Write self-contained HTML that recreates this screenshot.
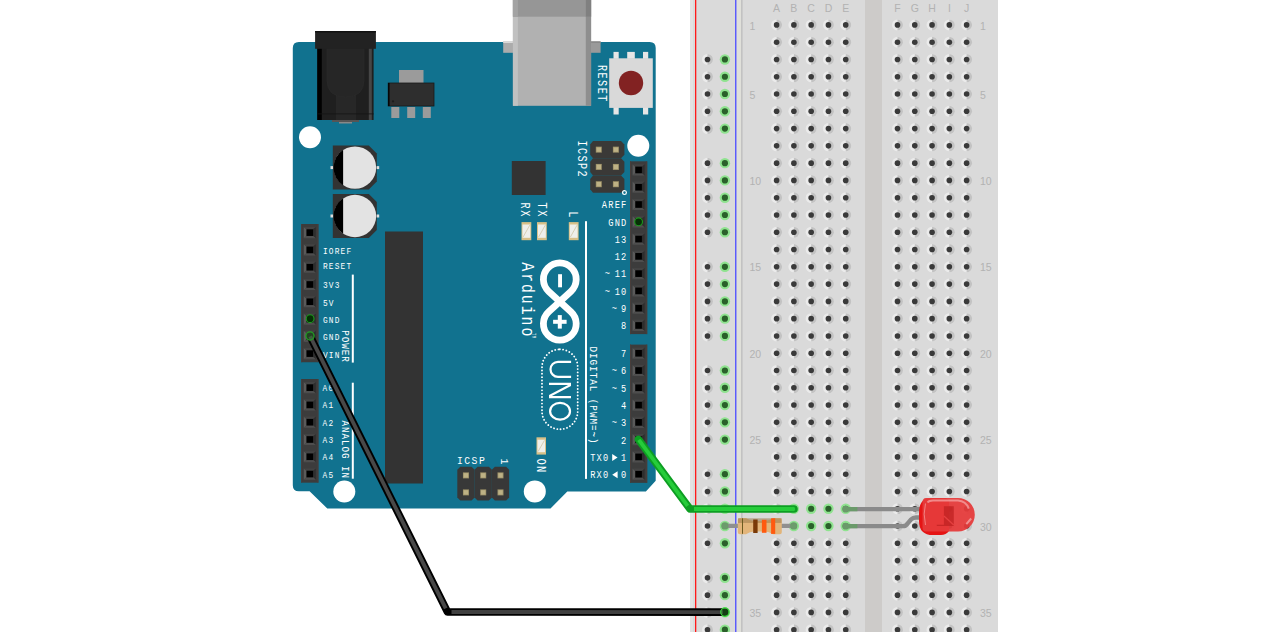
<!DOCTYPE html>
<html><head><meta charset="utf-8"><style>
html,body{margin:0;padding:0;background:#fff;width:1270px;height:632px;overflow:hidden}
svg{display:block}
.bl{font-family:"Liberation Sans",sans-serif;font-size:10.5px;fill:#b2b2b2;text-anchor:middle}
.lbx{font-family:"Liberation Mono",monospace;fill:#fff;stroke:none}
.ard{font-family:"Liberation Mono",monospace;fill:#fff;stroke:none}
</style></head><body>
<svg width="1270" height="632" viewBox="0 0 1270 632">
<defs>
<g id="h"><circle r="5.5" fill="#ebebeb"/><path d="M0,-5.5 A5.5,5.5 0 0 1 0,5.5 Z" fill="#c3c3c3"/><circle r="2.8" fill="#3a3a3a"/></g>
<g id="pin"><path d="M-6,-5.6 L-3.3,-3.3 L-3.3,3.3 L-6,5.6 Z" fill="#5a5a5a"/><path d="M-6,-5.6 L6,-5.6 L3.3,-3.3 L-3.3,-3.3 Z" fill="#434343"/><path d="M6,-5.6 L3.3,-3.3 L3.3,3.3 L6,5.6 Z" fill="#2e2e2e"/><path d="M-6,5.6 L6,5.6 L3.3,3.3 L-3.3,3.3 Z" fill="#4e4e4e"/><rect x="-3.3" y="-3.3" width="6.6" height="6.6" fill="#000"/></g>
</defs>
<rect width="1270" height="632" fill="#fff"/>
<rect x="690" y="0" width="308" height="632" fill="#dadada"/>
<rect x="690" y="0" width="3" height="632" fill="#e2e2e2"/>
<rect x="737" y="0" width="4" height="632" fill="#e0e0da"/>
<rect x="741" y="0" width="1.6" height="632" fill="#c2c2c2"/>
<rect x="865" y="0" width="17" height="632" fill="#cdcbc9"/>
<rect x="695" y="0" width="1.3" height="632" fill="#ff1a1a"/>
<rect x="735.1" y="0" width="1.3" height="632" fill="#4d4dff"/>
<use href="#h" x="776.60" y="24.90"/>
<use href="#h" x="793.88" y="24.90"/>
<use href="#h" x="811.16" y="24.90"/>
<use href="#h" x="828.44" y="24.90"/>
<use href="#h" x="845.72" y="24.90"/>
<use href="#h" x="897.50" y="24.90"/>
<use href="#h" x="914.78" y="24.90"/>
<use href="#h" x="932.06" y="24.90"/>
<use href="#h" x="949.34" y="24.90"/>
<use href="#h" x="966.62" y="24.90"/>
<use href="#h" x="776.60" y="42.18"/>
<use href="#h" x="793.88" y="42.18"/>
<use href="#h" x="811.16" y="42.18"/>
<use href="#h" x="828.44" y="42.18"/>
<use href="#h" x="845.72" y="42.18"/>
<use href="#h" x="897.50" y="42.18"/>
<use href="#h" x="914.78" y="42.18"/>
<use href="#h" x="932.06" y="42.18"/>
<use href="#h" x="949.34" y="42.18"/>
<use href="#h" x="966.62" y="42.18"/>
<use href="#h" x="776.60" y="59.46"/>
<use href="#h" x="793.88" y="59.46"/>
<use href="#h" x="811.16" y="59.46"/>
<use href="#h" x="828.44" y="59.46"/>
<use href="#h" x="845.72" y="59.46"/>
<use href="#h" x="897.50" y="59.46"/>
<use href="#h" x="914.78" y="59.46"/>
<use href="#h" x="932.06" y="59.46"/>
<use href="#h" x="949.34" y="59.46"/>
<use href="#h" x="966.62" y="59.46"/>
<use href="#h" x="776.60" y="76.74"/>
<use href="#h" x="793.88" y="76.74"/>
<use href="#h" x="811.16" y="76.74"/>
<use href="#h" x="828.44" y="76.74"/>
<use href="#h" x="845.72" y="76.74"/>
<use href="#h" x="897.50" y="76.74"/>
<use href="#h" x="914.78" y="76.74"/>
<use href="#h" x="932.06" y="76.74"/>
<use href="#h" x="949.34" y="76.74"/>
<use href="#h" x="966.62" y="76.74"/>
<use href="#h" x="776.60" y="94.02"/>
<use href="#h" x="793.88" y="94.02"/>
<use href="#h" x="811.16" y="94.02"/>
<use href="#h" x="828.44" y="94.02"/>
<use href="#h" x="845.72" y="94.02"/>
<use href="#h" x="897.50" y="94.02"/>
<use href="#h" x="914.78" y="94.02"/>
<use href="#h" x="932.06" y="94.02"/>
<use href="#h" x="949.34" y="94.02"/>
<use href="#h" x="966.62" y="94.02"/>
<use href="#h" x="776.60" y="111.30"/>
<use href="#h" x="793.88" y="111.30"/>
<use href="#h" x="811.16" y="111.30"/>
<use href="#h" x="828.44" y="111.30"/>
<use href="#h" x="845.72" y="111.30"/>
<use href="#h" x="897.50" y="111.30"/>
<use href="#h" x="914.78" y="111.30"/>
<use href="#h" x="932.06" y="111.30"/>
<use href="#h" x="949.34" y="111.30"/>
<use href="#h" x="966.62" y="111.30"/>
<use href="#h" x="776.60" y="128.58"/>
<use href="#h" x="793.88" y="128.58"/>
<use href="#h" x="811.16" y="128.58"/>
<use href="#h" x="828.44" y="128.58"/>
<use href="#h" x="845.72" y="128.58"/>
<use href="#h" x="897.50" y="128.58"/>
<use href="#h" x="914.78" y="128.58"/>
<use href="#h" x="932.06" y="128.58"/>
<use href="#h" x="949.34" y="128.58"/>
<use href="#h" x="966.62" y="128.58"/>
<use href="#h" x="776.60" y="145.86"/>
<use href="#h" x="793.88" y="145.86"/>
<use href="#h" x="811.16" y="145.86"/>
<use href="#h" x="828.44" y="145.86"/>
<use href="#h" x="845.72" y="145.86"/>
<use href="#h" x="897.50" y="145.86"/>
<use href="#h" x="914.78" y="145.86"/>
<use href="#h" x="932.06" y="145.86"/>
<use href="#h" x="949.34" y="145.86"/>
<use href="#h" x="966.62" y="145.86"/>
<use href="#h" x="776.60" y="163.14"/>
<use href="#h" x="793.88" y="163.14"/>
<use href="#h" x="811.16" y="163.14"/>
<use href="#h" x="828.44" y="163.14"/>
<use href="#h" x="845.72" y="163.14"/>
<use href="#h" x="897.50" y="163.14"/>
<use href="#h" x="914.78" y="163.14"/>
<use href="#h" x="932.06" y="163.14"/>
<use href="#h" x="949.34" y="163.14"/>
<use href="#h" x="966.62" y="163.14"/>
<use href="#h" x="776.60" y="180.42"/>
<use href="#h" x="793.88" y="180.42"/>
<use href="#h" x="811.16" y="180.42"/>
<use href="#h" x="828.44" y="180.42"/>
<use href="#h" x="845.72" y="180.42"/>
<use href="#h" x="897.50" y="180.42"/>
<use href="#h" x="914.78" y="180.42"/>
<use href="#h" x="932.06" y="180.42"/>
<use href="#h" x="949.34" y="180.42"/>
<use href="#h" x="966.62" y="180.42"/>
<use href="#h" x="776.60" y="197.70"/>
<use href="#h" x="793.88" y="197.70"/>
<use href="#h" x="811.16" y="197.70"/>
<use href="#h" x="828.44" y="197.70"/>
<use href="#h" x="845.72" y="197.70"/>
<use href="#h" x="897.50" y="197.70"/>
<use href="#h" x="914.78" y="197.70"/>
<use href="#h" x="932.06" y="197.70"/>
<use href="#h" x="949.34" y="197.70"/>
<use href="#h" x="966.62" y="197.70"/>
<use href="#h" x="776.60" y="214.98"/>
<use href="#h" x="793.88" y="214.98"/>
<use href="#h" x="811.16" y="214.98"/>
<use href="#h" x="828.44" y="214.98"/>
<use href="#h" x="845.72" y="214.98"/>
<use href="#h" x="897.50" y="214.98"/>
<use href="#h" x="914.78" y="214.98"/>
<use href="#h" x="932.06" y="214.98"/>
<use href="#h" x="949.34" y="214.98"/>
<use href="#h" x="966.62" y="214.98"/>
<use href="#h" x="776.60" y="232.26"/>
<use href="#h" x="793.88" y="232.26"/>
<use href="#h" x="811.16" y="232.26"/>
<use href="#h" x="828.44" y="232.26"/>
<use href="#h" x="845.72" y="232.26"/>
<use href="#h" x="897.50" y="232.26"/>
<use href="#h" x="914.78" y="232.26"/>
<use href="#h" x="932.06" y="232.26"/>
<use href="#h" x="949.34" y="232.26"/>
<use href="#h" x="966.62" y="232.26"/>
<use href="#h" x="776.60" y="249.54"/>
<use href="#h" x="793.88" y="249.54"/>
<use href="#h" x="811.16" y="249.54"/>
<use href="#h" x="828.44" y="249.54"/>
<use href="#h" x="845.72" y="249.54"/>
<use href="#h" x="897.50" y="249.54"/>
<use href="#h" x="914.78" y="249.54"/>
<use href="#h" x="932.06" y="249.54"/>
<use href="#h" x="949.34" y="249.54"/>
<use href="#h" x="966.62" y="249.54"/>
<use href="#h" x="776.60" y="266.82"/>
<use href="#h" x="793.88" y="266.82"/>
<use href="#h" x="811.16" y="266.82"/>
<use href="#h" x="828.44" y="266.82"/>
<use href="#h" x="845.72" y="266.82"/>
<use href="#h" x="897.50" y="266.82"/>
<use href="#h" x="914.78" y="266.82"/>
<use href="#h" x="932.06" y="266.82"/>
<use href="#h" x="949.34" y="266.82"/>
<use href="#h" x="966.62" y="266.82"/>
<use href="#h" x="776.60" y="284.10"/>
<use href="#h" x="793.88" y="284.10"/>
<use href="#h" x="811.16" y="284.10"/>
<use href="#h" x="828.44" y="284.10"/>
<use href="#h" x="845.72" y="284.10"/>
<use href="#h" x="897.50" y="284.10"/>
<use href="#h" x="914.78" y="284.10"/>
<use href="#h" x="932.06" y="284.10"/>
<use href="#h" x="949.34" y="284.10"/>
<use href="#h" x="966.62" y="284.10"/>
<use href="#h" x="776.60" y="301.38"/>
<use href="#h" x="793.88" y="301.38"/>
<use href="#h" x="811.16" y="301.38"/>
<use href="#h" x="828.44" y="301.38"/>
<use href="#h" x="845.72" y="301.38"/>
<use href="#h" x="897.50" y="301.38"/>
<use href="#h" x="914.78" y="301.38"/>
<use href="#h" x="932.06" y="301.38"/>
<use href="#h" x="949.34" y="301.38"/>
<use href="#h" x="966.62" y="301.38"/>
<use href="#h" x="776.60" y="318.66"/>
<use href="#h" x="793.88" y="318.66"/>
<use href="#h" x="811.16" y="318.66"/>
<use href="#h" x="828.44" y="318.66"/>
<use href="#h" x="845.72" y="318.66"/>
<use href="#h" x="897.50" y="318.66"/>
<use href="#h" x="914.78" y="318.66"/>
<use href="#h" x="932.06" y="318.66"/>
<use href="#h" x="949.34" y="318.66"/>
<use href="#h" x="966.62" y="318.66"/>
<use href="#h" x="776.60" y="335.94"/>
<use href="#h" x="793.88" y="335.94"/>
<use href="#h" x="811.16" y="335.94"/>
<use href="#h" x="828.44" y="335.94"/>
<use href="#h" x="845.72" y="335.94"/>
<use href="#h" x="897.50" y="335.94"/>
<use href="#h" x="914.78" y="335.94"/>
<use href="#h" x="932.06" y="335.94"/>
<use href="#h" x="949.34" y="335.94"/>
<use href="#h" x="966.62" y="335.94"/>
<use href="#h" x="776.60" y="353.22"/>
<use href="#h" x="793.88" y="353.22"/>
<use href="#h" x="811.16" y="353.22"/>
<use href="#h" x="828.44" y="353.22"/>
<use href="#h" x="845.72" y="353.22"/>
<use href="#h" x="897.50" y="353.22"/>
<use href="#h" x="914.78" y="353.22"/>
<use href="#h" x="932.06" y="353.22"/>
<use href="#h" x="949.34" y="353.22"/>
<use href="#h" x="966.62" y="353.22"/>
<use href="#h" x="776.60" y="370.50"/>
<use href="#h" x="793.88" y="370.50"/>
<use href="#h" x="811.16" y="370.50"/>
<use href="#h" x="828.44" y="370.50"/>
<use href="#h" x="845.72" y="370.50"/>
<use href="#h" x="897.50" y="370.50"/>
<use href="#h" x="914.78" y="370.50"/>
<use href="#h" x="932.06" y="370.50"/>
<use href="#h" x="949.34" y="370.50"/>
<use href="#h" x="966.62" y="370.50"/>
<use href="#h" x="776.60" y="387.78"/>
<use href="#h" x="793.88" y="387.78"/>
<use href="#h" x="811.16" y="387.78"/>
<use href="#h" x="828.44" y="387.78"/>
<use href="#h" x="845.72" y="387.78"/>
<use href="#h" x="897.50" y="387.78"/>
<use href="#h" x="914.78" y="387.78"/>
<use href="#h" x="932.06" y="387.78"/>
<use href="#h" x="949.34" y="387.78"/>
<use href="#h" x="966.62" y="387.78"/>
<use href="#h" x="776.60" y="405.06"/>
<use href="#h" x="793.88" y="405.06"/>
<use href="#h" x="811.16" y="405.06"/>
<use href="#h" x="828.44" y="405.06"/>
<use href="#h" x="845.72" y="405.06"/>
<use href="#h" x="897.50" y="405.06"/>
<use href="#h" x="914.78" y="405.06"/>
<use href="#h" x="932.06" y="405.06"/>
<use href="#h" x="949.34" y="405.06"/>
<use href="#h" x="966.62" y="405.06"/>
<use href="#h" x="776.60" y="422.34"/>
<use href="#h" x="793.88" y="422.34"/>
<use href="#h" x="811.16" y="422.34"/>
<use href="#h" x="828.44" y="422.34"/>
<use href="#h" x="845.72" y="422.34"/>
<use href="#h" x="897.50" y="422.34"/>
<use href="#h" x="914.78" y="422.34"/>
<use href="#h" x="932.06" y="422.34"/>
<use href="#h" x="949.34" y="422.34"/>
<use href="#h" x="966.62" y="422.34"/>
<use href="#h" x="776.60" y="439.62"/>
<use href="#h" x="793.88" y="439.62"/>
<use href="#h" x="811.16" y="439.62"/>
<use href="#h" x="828.44" y="439.62"/>
<use href="#h" x="845.72" y="439.62"/>
<use href="#h" x="897.50" y="439.62"/>
<use href="#h" x="914.78" y="439.62"/>
<use href="#h" x="932.06" y="439.62"/>
<use href="#h" x="949.34" y="439.62"/>
<use href="#h" x="966.62" y="439.62"/>
<use href="#h" x="776.60" y="456.90"/>
<use href="#h" x="793.88" y="456.90"/>
<use href="#h" x="811.16" y="456.90"/>
<use href="#h" x="828.44" y="456.90"/>
<use href="#h" x="845.72" y="456.90"/>
<use href="#h" x="897.50" y="456.90"/>
<use href="#h" x="914.78" y="456.90"/>
<use href="#h" x="932.06" y="456.90"/>
<use href="#h" x="949.34" y="456.90"/>
<use href="#h" x="966.62" y="456.90"/>
<use href="#h" x="776.60" y="474.18"/>
<use href="#h" x="793.88" y="474.18"/>
<use href="#h" x="811.16" y="474.18"/>
<use href="#h" x="828.44" y="474.18"/>
<use href="#h" x="845.72" y="474.18"/>
<use href="#h" x="897.50" y="474.18"/>
<use href="#h" x="914.78" y="474.18"/>
<use href="#h" x="932.06" y="474.18"/>
<use href="#h" x="949.34" y="474.18"/>
<use href="#h" x="966.62" y="474.18"/>
<use href="#h" x="776.60" y="491.46"/>
<use href="#h" x="793.88" y="491.46"/>
<use href="#h" x="811.16" y="491.46"/>
<use href="#h" x="828.44" y="491.46"/>
<use href="#h" x="845.72" y="491.46"/>
<use href="#h" x="897.50" y="491.46"/>
<use href="#h" x="914.78" y="491.46"/>
<use href="#h" x="932.06" y="491.46"/>
<use href="#h" x="949.34" y="491.46"/>
<use href="#h" x="966.62" y="491.46"/>
<use href="#h" x="776.60" y="508.74"/>
<circle cx="793.88" cy="508.74" r="5.2" fill="#8fe38f"/>
<circle cx="793.88" cy="508.74" r="3.1" fill="#2a602a"/>
<circle cx="811.16" cy="508.74" r="5.2" fill="#8fe38f"/>
<circle cx="811.16" cy="508.74" r="3.1" fill="#2a602a"/>
<circle cx="828.44" cy="508.74" r="5.2" fill="#8fe38f"/>
<circle cx="828.44" cy="508.74" r="3.1" fill="#2a602a"/>
<circle cx="845.72" cy="508.74" r="5.2" fill="#8fe38f"/>
<circle cx="845.72" cy="508.74" r="3.1" fill="#2a602a"/>
<use href="#h" x="897.50" y="508.74"/>
<use href="#h" x="914.78" y="508.74"/>
<use href="#h" x="932.06" y="508.74"/>
<use href="#h" x="949.34" y="508.74"/>
<use href="#h" x="966.62" y="508.74"/>
<use href="#h" x="776.60" y="526.02"/>
<circle cx="793.88" cy="526.02" r="5.2" fill="#8fe38f"/>
<circle cx="793.88" cy="526.02" r="3.1" fill="#2a602a"/>
<circle cx="811.16" cy="526.02" r="5.2" fill="#8fe38f"/>
<circle cx="811.16" cy="526.02" r="3.1" fill="#2a602a"/>
<circle cx="828.44" cy="526.02" r="5.2" fill="#8fe38f"/>
<circle cx="828.44" cy="526.02" r="3.1" fill="#2a602a"/>
<circle cx="845.72" cy="526.02" r="5.2" fill="#8fe38f"/>
<circle cx="845.72" cy="526.02" r="3.1" fill="#2a602a"/>
<use href="#h" x="897.50" y="526.02"/>
<use href="#h" x="914.78" y="526.02"/>
<use href="#h" x="932.06" y="526.02"/>
<use href="#h" x="949.34" y="526.02"/>
<use href="#h" x="966.62" y="526.02"/>
<use href="#h" x="776.60" y="543.30"/>
<use href="#h" x="793.88" y="543.30"/>
<use href="#h" x="811.16" y="543.30"/>
<use href="#h" x="828.44" y="543.30"/>
<use href="#h" x="845.72" y="543.30"/>
<use href="#h" x="897.50" y="543.30"/>
<use href="#h" x="914.78" y="543.30"/>
<use href="#h" x="932.06" y="543.30"/>
<use href="#h" x="949.34" y="543.30"/>
<use href="#h" x="966.62" y="543.30"/>
<use href="#h" x="776.60" y="560.58"/>
<use href="#h" x="793.88" y="560.58"/>
<use href="#h" x="811.16" y="560.58"/>
<use href="#h" x="828.44" y="560.58"/>
<use href="#h" x="845.72" y="560.58"/>
<use href="#h" x="897.50" y="560.58"/>
<use href="#h" x="914.78" y="560.58"/>
<use href="#h" x="932.06" y="560.58"/>
<use href="#h" x="949.34" y="560.58"/>
<use href="#h" x="966.62" y="560.58"/>
<use href="#h" x="776.60" y="577.86"/>
<use href="#h" x="793.88" y="577.86"/>
<use href="#h" x="811.16" y="577.86"/>
<use href="#h" x="828.44" y="577.86"/>
<use href="#h" x="845.72" y="577.86"/>
<use href="#h" x="897.50" y="577.86"/>
<use href="#h" x="914.78" y="577.86"/>
<use href="#h" x="932.06" y="577.86"/>
<use href="#h" x="949.34" y="577.86"/>
<use href="#h" x="966.62" y="577.86"/>
<use href="#h" x="776.60" y="595.14"/>
<use href="#h" x="793.88" y="595.14"/>
<use href="#h" x="811.16" y="595.14"/>
<use href="#h" x="828.44" y="595.14"/>
<use href="#h" x="845.72" y="595.14"/>
<use href="#h" x="897.50" y="595.14"/>
<use href="#h" x="914.78" y="595.14"/>
<use href="#h" x="932.06" y="595.14"/>
<use href="#h" x="949.34" y="595.14"/>
<use href="#h" x="966.62" y="595.14"/>
<use href="#h" x="776.60" y="612.42"/>
<use href="#h" x="793.88" y="612.42"/>
<use href="#h" x="811.16" y="612.42"/>
<use href="#h" x="828.44" y="612.42"/>
<use href="#h" x="845.72" y="612.42"/>
<use href="#h" x="897.50" y="612.42"/>
<use href="#h" x="914.78" y="612.42"/>
<use href="#h" x="932.06" y="612.42"/>
<use href="#h" x="949.34" y="612.42"/>
<use href="#h" x="966.62" y="612.42"/>
<use href="#h" x="776.60" y="629.70"/>
<use href="#h" x="793.88" y="629.70"/>
<use href="#h" x="811.16" y="629.70"/>
<use href="#h" x="828.44" y="629.70"/>
<use href="#h" x="845.72" y="629.70"/>
<use href="#h" x="897.50" y="629.70"/>
<use href="#h" x="914.78" y="629.70"/>
<use href="#h" x="932.06" y="629.70"/>
<use href="#h" x="949.34" y="629.70"/>
<use href="#h" x="966.62" y="629.70"/>
<use href="#h" x="776.60" y="646.98"/>
<use href="#h" x="793.88" y="646.98"/>
<use href="#h" x="811.16" y="646.98"/>
<use href="#h" x="828.44" y="646.98"/>
<use href="#h" x="845.72" y="646.98"/>
<use href="#h" x="897.50" y="646.98"/>
<use href="#h" x="914.78" y="646.98"/>
<use href="#h" x="932.06" y="646.98"/>
<use href="#h" x="949.34" y="646.98"/>
<use href="#h" x="966.62" y="646.98"/>
<use href="#h" x="707.50" y="59.46"/>
<circle cx="724.90" cy="59.46" r="5.2" fill="#8fe38f"/>
<circle cx="724.90" cy="59.46" r="3.1" fill="#2a602a"/>
<use href="#h" x="707.50" y="76.74"/>
<circle cx="724.90" cy="76.74" r="5.2" fill="#8fe38f"/>
<circle cx="724.90" cy="76.74" r="3.1" fill="#2a602a"/>
<use href="#h" x="707.50" y="94.02"/>
<circle cx="724.90" cy="94.02" r="5.2" fill="#8fe38f"/>
<circle cx="724.90" cy="94.02" r="3.1" fill="#2a602a"/>
<use href="#h" x="707.50" y="111.30"/>
<circle cx="724.90" cy="111.30" r="5.2" fill="#8fe38f"/>
<circle cx="724.90" cy="111.30" r="3.1" fill="#2a602a"/>
<use href="#h" x="707.50" y="128.58"/>
<circle cx="724.90" cy="128.58" r="5.2" fill="#8fe38f"/>
<circle cx="724.90" cy="128.58" r="3.1" fill="#2a602a"/>
<use href="#h" x="707.50" y="163.14"/>
<circle cx="724.90" cy="163.14" r="5.2" fill="#8fe38f"/>
<circle cx="724.90" cy="163.14" r="3.1" fill="#2a602a"/>
<use href="#h" x="707.50" y="180.42"/>
<circle cx="724.90" cy="180.42" r="5.2" fill="#8fe38f"/>
<circle cx="724.90" cy="180.42" r="3.1" fill="#2a602a"/>
<use href="#h" x="707.50" y="197.70"/>
<circle cx="724.90" cy="197.70" r="5.2" fill="#8fe38f"/>
<circle cx="724.90" cy="197.70" r="3.1" fill="#2a602a"/>
<use href="#h" x="707.50" y="214.98"/>
<circle cx="724.90" cy="214.98" r="5.2" fill="#8fe38f"/>
<circle cx="724.90" cy="214.98" r="3.1" fill="#2a602a"/>
<use href="#h" x="707.50" y="232.26"/>
<circle cx="724.90" cy="232.26" r="5.2" fill="#8fe38f"/>
<circle cx="724.90" cy="232.26" r="3.1" fill="#2a602a"/>
<use href="#h" x="707.50" y="266.82"/>
<circle cx="724.90" cy="266.82" r="5.2" fill="#8fe38f"/>
<circle cx="724.90" cy="266.82" r="3.1" fill="#2a602a"/>
<use href="#h" x="707.50" y="284.10"/>
<circle cx="724.90" cy="284.10" r="5.2" fill="#8fe38f"/>
<circle cx="724.90" cy="284.10" r="3.1" fill="#2a602a"/>
<use href="#h" x="707.50" y="301.38"/>
<circle cx="724.90" cy="301.38" r="5.2" fill="#8fe38f"/>
<circle cx="724.90" cy="301.38" r="3.1" fill="#2a602a"/>
<use href="#h" x="707.50" y="318.66"/>
<circle cx="724.90" cy="318.66" r="5.2" fill="#8fe38f"/>
<circle cx="724.90" cy="318.66" r="3.1" fill="#2a602a"/>
<use href="#h" x="707.50" y="335.94"/>
<circle cx="724.90" cy="335.94" r="5.2" fill="#8fe38f"/>
<circle cx="724.90" cy="335.94" r="3.1" fill="#2a602a"/>
<use href="#h" x="707.50" y="370.50"/>
<circle cx="724.90" cy="370.50" r="5.2" fill="#8fe38f"/>
<circle cx="724.90" cy="370.50" r="3.1" fill="#2a602a"/>
<use href="#h" x="707.50" y="387.78"/>
<circle cx="724.90" cy="387.78" r="5.2" fill="#8fe38f"/>
<circle cx="724.90" cy="387.78" r="3.1" fill="#2a602a"/>
<use href="#h" x="707.50" y="405.06"/>
<circle cx="724.90" cy="405.06" r="5.2" fill="#8fe38f"/>
<circle cx="724.90" cy="405.06" r="3.1" fill="#2a602a"/>
<use href="#h" x="707.50" y="422.34"/>
<circle cx="724.90" cy="422.34" r="5.2" fill="#8fe38f"/>
<circle cx="724.90" cy="422.34" r="3.1" fill="#2a602a"/>
<use href="#h" x="707.50" y="439.62"/>
<circle cx="724.90" cy="439.62" r="5.2" fill="#8fe38f"/>
<circle cx="724.90" cy="439.62" r="3.1" fill="#2a602a"/>
<use href="#h" x="707.50" y="474.18"/>
<circle cx="724.90" cy="474.18" r="5.2" fill="#8fe38f"/>
<circle cx="724.90" cy="474.18" r="3.1" fill="#2a602a"/>
<use href="#h" x="707.50" y="491.46"/>
<circle cx="724.90" cy="491.46" r="5.2" fill="#8fe38f"/>
<circle cx="724.90" cy="491.46" r="3.1" fill="#2a602a"/>
<use href="#h" x="707.50" y="508.74"/>
<circle cx="724.90" cy="508.74" r="5.2" fill="#8fe38f"/>
<circle cx="724.90" cy="508.74" r="3.1" fill="#2a602a"/>
<use href="#h" x="707.50" y="526.02"/>
<circle cx="724.90" cy="526.02" r="5.2" fill="#8fe38f"/>
<circle cx="724.90" cy="526.02" r="3.1" fill="#2a602a"/>
<use href="#h" x="707.50" y="543.30"/>
<circle cx="724.90" cy="543.30" r="5.2" fill="#8fe38f"/>
<circle cx="724.90" cy="543.30" r="3.1" fill="#2a602a"/>
<use href="#h" x="707.50" y="577.86"/>
<circle cx="724.90" cy="577.86" r="5.2" fill="#8fe38f"/>
<circle cx="724.90" cy="577.86" r="3.1" fill="#2a602a"/>
<use href="#h" x="707.50" y="595.14"/>
<circle cx="724.90" cy="595.14" r="5.2" fill="#8fe38f"/>
<circle cx="724.90" cy="595.14" r="3.1" fill="#2a602a"/>
<use href="#h" x="707.50" y="612.42"/>
<circle cx="724.90" cy="612.42" r="5.2" fill="#8fe38f"/>
<circle cx="724.90" cy="612.42" r="3.1" fill="#2a602a"/>
<use href="#h" x="707.50" y="629.70"/>
<circle cx="724.90" cy="629.70" r="5.2" fill="#8fe38f"/>
<circle cx="724.90" cy="629.70" r="3.1" fill="#2a602a"/>
<use href="#h" x="707.50" y="646.98"/>
<circle cx="724.90" cy="646.98" r="5.2" fill="#8fe38f"/>
<circle cx="724.90" cy="646.98" r="3.1" fill="#2a602a"/>
<text x="776.60" y="11.8" class="bl">A</text>
<text x="793.88" y="11.8" class="bl">B</text>
<text x="811.16" y="11.8" class="bl">C</text>
<text x="828.44" y="11.8" class="bl">D</text>
<text x="845.72" y="11.8" class="bl">E</text>
<text x="897.50" y="11.8" class="bl">F</text>
<text x="914.78" y="11.8" class="bl">G</text>
<text x="932.06" y="11.8" class="bl">H</text>
<text x="949.34" y="11.8" class="bl">I</text>
<text x="966.62" y="11.8" class="bl">J</text>
<text x="749.4" y="29.50" class="bl" style="text-anchor:start">1</text>
<text x="979.9" y="29.50" class="bl" style="text-anchor:start">1</text>
<text x="749.4" y="98.62" class="bl" style="text-anchor:start">5</text>
<text x="979.9" y="98.62" class="bl" style="text-anchor:start">5</text>
<text x="749.4" y="185.02" class="bl" style="text-anchor:start">10</text>
<text x="979.9" y="185.02" class="bl" style="text-anchor:start">10</text>
<text x="749.4" y="271.42" class="bl" style="text-anchor:start">15</text>
<text x="979.9" y="271.42" class="bl" style="text-anchor:start">15</text>
<text x="749.4" y="357.82" class="bl" style="text-anchor:start">20</text>
<text x="979.9" y="357.82" class="bl" style="text-anchor:start">20</text>
<text x="749.4" y="444.22" class="bl" style="text-anchor:start">25</text>
<text x="979.9" y="444.22" class="bl" style="text-anchor:start">25</text>
<text x="749.4" y="530.62" class="bl" style="text-anchor:start">30</text>
<text x="979.9" y="530.62" class="bl" style="text-anchor:start">30</text>
<text x="749.4" y="617.02" class="bl" style="text-anchor:start">35</text>
<text x="979.9" y="617.02" class="bl" style="text-anchor:start">35</text>
<path d="M292.8,48.1 Q292.8,42.1 298.8,42.1 L649.7,42.1 Q655.7,42.1 655.7,48.1 L655.7,480.8 L645.9,491.6 L567.3,491.6 L550.5,508.5 L327.3,508.5 L309.6,491.2 L298.8,491.2 Q292.8,491.2 292.8,485.2 Z" fill="#11728f"/>
<circle cx="310" cy="137.2" r="11" fill="#fff"/>
<circle cx="638.3" cy="145.8" r="11" fill="#fff"/>
<circle cx="344.3" cy="491.5" r="11" fill="#fff"/>
<circle cx="534.8" cy="491.4" r="11" fill="#fff"/>
<rect x="317.3" y="46" width="56.3" height="74" fill="#1f1f1f"/>
<rect x="317.3" y="46" width="4.5" height="74" fill="#000"/>
<rect x="368.8" y="48" width="3" height="72" fill="#464646"/>
<rect x="335.8" y="90" width="20.2" height="30" fill="#272727"/>
<path d="M327,48 L364,48 L364,80 Q364,97 345.5,97 Q327,97 327,80 Z" fill="#262626" stroke="#2c2c2c" stroke-width="0.6"/>
<rect x="317.3" y="113.5" width="56.3" height="0.8" fill="#141414"/>
<rect x="315.1" y="31" width="60.8" height="17.8" fill="#222"/>
<rect x="315.1" y="31" width="60.8" height="1.5" fill="#111"/>
<rect x="332" y="120" width="27" height="2" fill="#555"/>
<rect x="339" y="122" width="13" height="1.5" fill="#888"/>
<rect x="399" y="70" width="24.5" height="13" fill="#9b9b9b"/>
<rect x="388.2" y="83" width="45.8" height="23" fill="#2e2e2e" stroke="#1a1a1a" stroke-width="0.8"/>
<rect x="388.2" y="83" width="1.3" height="23" fill="#000"/><circle cx="393" cy="101.3" r="1.1" fill="#1c1c1c"/>
<rect x="391.3" y="107" width="8" height="11" fill="#9b9b9b"/>
<rect x="407.2" y="107" width="8" height="11" fill="#9b9b9b"/>
<rect x="422.8" y="107" width="8" height="11" fill="#9b9b9b"/>
<rect x="503.2" y="41.4" width="10" height="11.4" fill="#acacac"/><rect x="503.2" y="41.4" width="10" height="1.5" fill="#dedede"/>
<rect x="590" y="41.4" width="10.6" height="11.4" fill="#9a9a9a"/><rect x="590" y="41.4" width="10.6" height="1.5" fill="#888"/>
<rect x="512.9" y="0" width="78.2" height="105.8" fill="#b1b1b1"/>
<rect x="512.9" y="0" width="5" height="105.8" fill="#c1c1c1"/>
<rect x="585.8" y="0" width="5.3" height="105.8" fill="#8e8e8e"/>
<rect x="512.9" y="0" width="78.2" height="16.7" fill="#969696"/>
<rect x="585.8" y="0" width="5.3" height="16.7" fill="#808080"/>
<rect x="512.9" y="0" width="5" height="16.7" fill="#a3a3a3"/>
<rect x="613.5" y="51.9" width="5.2" height="7" fill="#e6e6e6"/>
<rect x="627.2" y="51.9" width="7.6" height="7" fill="#e6e6e6"/>
<rect x="643" y="51.9" width="5.2" height="7" fill="#e6e6e6"/>
<rect x="613.5" y="107" width="5.2" height="7.5" fill="#e6e6e6"/>
<rect x="643" y="107" width="5.2" height="7.5" fill="#e6e6e6"/>
<rect x="609.2" y="58.3" width="43.6" height="49.6" fill="#d9d9d9"/>
<circle cx="631" cy="83" r="12.2" fill="#822222"/>
<path d="M332.8,145.6 L368.8,145.6 L376.8,153.6 L376.8,181.6 L368.8,189.6 L332.8,189.6 Z" fill="#333"/>
<rect x="330.5" y="166.1" width="2.5" height="3" fill="#ddd"/><rect x="376.7" y="166.1" width="2.5" height="3" fill="#ddd"/>
<circle cx="355" cy="167.6" r="21.2" fill="#e3e3e3"/>
<path d="M343.1,149.80 A21.3,21.3 0 0 0 343.1,185.40 Z" fill="#000"/>
<path d="M332.8,194 L368.8,194 L376.8,202 L376.8,230 L368.8,238 L332.8,238 Z" fill="#333"/>
<rect x="330.5" y="214.5" width="2.5" height="3" fill="#ddd"/><rect x="376.7" y="214.5" width="2.5" height="3" fill="#ddd"/>
<circle cx="355" cy="216" r="21.2" fill="#e3e3e3"/>
<path d="M343.1,198.20 A21.3,21.3 0 0 0 343.1,233.80 Z" fill="#000"/>
<rect x="385" y="231.5" width="38" height="252" fill="#333"/>
<rect x="511.8" y="161" width="33.8" height="34" fill="#333"/>
<rect x="301.2" y="224.0" width="17.2" height="138.24" fill="#3c3c3c"/>
<rect x="301.2" y="224.0" width="0.9" height="138.24" fill="#4a3e3a"/><rect x="317.50" y="224.0" width="0.9" height="138.24" fill="#4a3e3a"/>
<use href="#pin" x="309.80" y="232.64"/>
<use href="#pin" x="309.80" y="249.92"/>
<use href="#pin" x="309.80" y="267.20"/>
<use href="#pin" x="309.80" y="284.48"/>
<use href="#pin" x="309.80" y="301.76"/>
<use href="#pin" x="309.80" y="319.04"/>
<use href="#pin" x="309.80" y="336.32"/>
<use href="#pin" x="309.80" y="353.60"/>
<rect x="301.2" y="379.0" width="17.2" height="103.68" fill="#3c3c3c"/>
<rect x="301.2" y="379.0" width="0.9" height="103.68" fill="#4a3e3a"/><rect x="317.50" y="379.0" width="0.9" height="103.68" fill="#4a3e3a"/>
<use href="#pin" x="309.80" y="387.64"/>
<use href="#pin" x="309.80" y="404.92"/>
<use href="#pin" x="309.80" y="422.20"/>
<use href="#pin" x="309.80" y="439.48"/>
<use href="#pin" x="309.80" y="456.76"/>
<use href="#pin" x="309.80" y="474.04"/>
<rect x="630.0" y="161.3" width="17.2" height="172.80" fill="#3c3c3c"/>
<rect x="630.0" y="161.3" width="0.9" height="172.80" fill="#4a3e3a"/><rect x="646.30" y="161.3" width="0.9" height="172.80" fill="#4a3e3a"/>
<use href="#pin" x="638.60" y="169.94"/>
<use href="#pin" x="638.60" y="187.22"/>
<use href="#pin" x="638.60" y="204.50"/>
<use href="#pin" x="638.60" y="221.78"/>
<use href="#pin" x="638.60" y="239.06"/>
<use href="#pin" x="638.60" y="256.34"/>
<use href="#pin" x="638.60" y="273.62"/>
<use href="#pin" x="638.60" y="290.90"/>
<use href="#pin" x="638.60" y="308.18"/>
<use href="#pin" x="638.60" y="325.46"/>
<rect x="630.0" y="344.6" width="17.2" height="138.24" fill="#3c3c3c"/>
<rect x="630.0" y="344.6" width="0.9" height="138.24" fill="#4a3e3a"/><rect x="646.30" y="344.6" width="0.9" height="138.24" fill="#4a3e3a"/>
<use href="#pin" x="638.60" y="353.24"/>
<use href="#pin" x="638.60" y="370.52"/>
<use href="#pin" x="638.60" y="387.80"/>
<use href="#pin" x="638.60" y="405.08"/>
<use href="#pin" x="638.60" y="422.36"/>
<use href="#pin" x="638.60" y="439.64"/>
<use href="#pin" x="638.60" y="456.92"/>
<use href="#pin" x="638.60" y="474.20"/>
<circle cx="310.1" cy="318.7" r="3.9" fill="#063006" stroke="#1e9a1e" stroke-width="1.1"/>
<circle cx="638.6" cy="221.8" r="3.9" fill="#063006" stroke="#1e9a1e" stroke-width="1.1"/>
<rect x="351.8" y="274.6" width="2" height="88" fill="#fff"/>
<rect x="351.8" y="382.7" width="2" height="96" fill="#fff"/>
<rect x="585" y="221.2" width="2" height="257.7" fill="#fff"/>
<rect x="521.5" y="222.1" width="9.8" height="18.1" fill="#d8c088"/>
<rect x="522.5" y="224.5" width="7.800000000000001" height="13.3" fill="#efefeb"/>
<path d="M523.0,237.2 L529.8,225.1" stroke="#c8b890" stroke-width="0.6"/>
<rect x="537" y="222.1" width="9.8" height="18.1" fill="#d8c088"/>
<rect x="538" y="224.5" width="7.800000000000001" height="13.3" fill="#efefeb"/>
<path d="M538.5,237.2 L545.3,225.1" stroke="#c8b890" stroke-width="0.6"/>
<rect x="568.8" y="222.1" width="9.8" height="18.1" fill="#d8c088"/>
<rect x="569.8" y="224.5" width="7.800000000000001" height="13.3" fill="#efefeb"/>
<path d="M570.3,237.2 L577.0999999999999,225.1" stroke="#c8b890" stroke-width="0.6"/>
<rect x="536.5" y="437.3" width="9.5" height="17.3" fill="#d8c088"/>
<rect x="537.5" y="439.7" width="7.5" height="12.5" fill="#efefeb"/>
<path d="M538.0,451.6 L544.5,440.3" stroke="#c8b890" stroke-width="0.6"/>
<path d="M593,141.00 L621,141.00 L624.4,144.50 L624.4,154.78 L621,158.28 L593,158.28 L590.2,154.78 L590.2,144.50 Z" fill="#3a3937"/>
<rect x="595.8" y="146.64" width="6" height="6" fill="#9c9068"/><rect x="596.5999999999999" y="147.44" width="4.4" height="4.4" fill="#bdb185"/>
<rect x="612.9" y="146.64" width="6" height="6" fill="#9c9068"/><rect x="613.6999999999999" y="147.44" width="4.4" height="4.4" fill="#bdb185"/>
<path d="M593,158.28 L621,158.28 L624.4,161.78 L624.4,172.06 L621,175.56 L593,175.56 L590.2,172.06 L590.2,161.78 Z" fill="#3a3937"/>
<rect x="595.8" y="163.92" width="6" height="6" fill="#9c9068"/><rect x="596.5999999999999" y="164.72" width="4.4" height="4.4" fill="#bdb185"/>
<rect x="612.9" y="163.92" width="6" height="6" fill="#9c9068"/><rect x="613.6999999999999" y="164.72" width="4.4" height="4.4" fill="#bdb185"/>
<path d="M593,175.56 L621,175.56 L624.4,179.06 L624.4,189.34 L621,192.84 L593,192.84 L590.2,189.34 L590.2,179.06 Z" fill="#3a3937"/>
<rect x="595.8" y="181.20" width="6" height="6" fill="#9c9068"/><rect x="596.5999999999999" y="182.00" width="4.4" height="4.4" fill="#bdb185"/>
<rect x="612.9" y="181.20" width="6" height="6" fill="#9c9068"/><rect x="613.6999999999999" y="182.00" width="4.4" height="4.4" fill="#bdb185"/>
<circle cx="624.5" cy="192.6" r="1.9" fill="none" stroke="#fff" stroke-width="1.2"/>
<path d="M460.30,466.8 L471.58,466.8 L474.58,469.8 L474.58,497.5 L471.58,500.5 L460.30,500.5 L457.30,497.5 L457.30,469.8 Z" fill="#383838"/>
<rect x="462.94" y="472.4" width="6" height="6" fill="#9c9068"/><rect x="463.74" y="473.2" width="4.4" height="4.4" fill="#bdb185"/>
<rect x="462.94" y="489.4" width="6" height="6" fill="#9c9068"/><rect x="463.74" y="490.2" width="4.4" height="4.4" fill="#bdb185"/>
<path d="M477.58,466.8 L488.86,466.8 L491.86,469.8 L491.86,497.5 L488.86,500.5 L477.58,500.5 L474.58,497.5 L474.58,469.8 Z" fill="#383838"/>
<rect x="480.22" y="472.4" width="6" height="6" fill="#9c9068"/><rect x="481.02" y="473.2" width="4.4" height="4.4" fill="#bdb185"/>
<rect x="480.22" y="489.4" width="6" height="6" fill="#9c9068"/><rect x="481.02" y="490.2" width="4.4" height="4.4" fill="#bdb185"/>
<path d="M494.86,466.8 L506.14,466.8 L509.14,469.8 L509.14,497.5 L506.14,500.5 L494.86,500.5 L491.86,497.5 L491.86,469.8 Z" fill="#383838"/>
<rect x="497.50" y="472.4" width="6" height="6" fill="#9c9068"/><rect x="498.30" y="473.2" width="4.4" height="4.4" fill="#bdb185"/>
<rect x="497.50" y="489.4" width="6" height="6" fill="#9c9068"/><rect x="498.30" y="490.2" width="4.4" height="4.4" fill="#bdb185"/>
<path d="M548.72,311.71 L570.88,291.39 A16.4,16.4 0 1 0 548.72,291.39 L570.88,311.71 A16.4,16.4 0 1 1 548.72,311.71 Z" fill="none" stroke="#fff" stroke-width="6.8" stroke-linejoin="round"/>
<rect x="558.1" y="274.2" width="3.9" height="13.1" fill="#fff"/>
<rect x="557.8" y="315.1" width="4" height="13.5" fill="#fff"/>
<rect x="553.1" y="319.8" width="13.5" height="4" fill="#fff"/>
<rect x="542" y="349.3" width="35.7" height="80" rx="17.85" fill="none" stroke="#fff" stroke-width="1.9" stroke-dasharray="0.01 3.3" stroke-linecap="round"/>
<text transform="translate(323.00,253.90) scale(0.85,1)" class="lbx" style="font-size:9.2px;letter-spacing:1.386px">IOREF</text>
<text transform="translate(323.00,268.78) scale(0.85,1)" class="lbx" style="font-size:9.2px;letter-spacing:1.386px">RESET</text>
<text transform="translate(323.00,288.46) scale(0.85,1)" class="lbx" style="font-size:9.2px;letter-spacing:1.386px">3V3</text>
<text transform="translate(323.00,305.74) scale(0.85,1)" class="lbx" style="font-size:9.2px;letter-spacing:1.386px">5V</text>
<text transform="translate(323.00,323.02) scale(0.85,1)" class="lbx" style="font-size:9.2px;letter-spacing:1.386px">GND</text>
<text transform="translate(323.00,340.30) scale(0.85,1)" class="lbx" style="font-size:9.2px;letter-spacing:1.386px">GND</text>
<text transform="translate(323.00,357.58) scale(0.85,1)" class="lbx" style="font-size:9.2px;letter-spacing:1.386px">VIN</text>
<text transform="translate(322.60,391.10) scale(0.85,1)" class="lbx" style="font-size:9.2px;letter-spacing:1.386px">A0</text>
<text transform="translate(322.60,408.38) scale(0.85,1)" class="lbx" style="font-size:9.2px;letter-spacing:1.386px">A1</text>
<text transform="translate(322.60,425.66) scale(0.85,1)" class="lbx" style="font-size:9.2px;letter-spacing:1.386px">A2</text>
<text transform="translate(322.60,442.94) scale(0.85,1)" class="lbx" style="font-size:9.2px;letter-spacing:1.386px">A3</text>
<text transform="translate(322.60,460.22) scale(0.85,1)" class="lbx" style="font-size:9.2px;letter-spacing:1.386px">A4</text>
<text transform="translate(322.60,477.50) scale(0.85,1)" class="lbx" style="font-size:9.2px;letter-spacing:1.386px">A5</text>
<text transform="translate(627.57,208.36) scale(0.85,1)" text-anchor="end" class="lbx" style="font-size:10.2px;letter-spacing:1.492px">AREF</text>
<text transform="translate(627.57,225.64) scale(0.85,1)" text-anchor="end" class="lbx" style="font-size:10.2px;letter-spacing:1.492px">GND</text>
<text transform="translate(627.57,242.92) scale(0.85,1)" text-anchor="end" class="lbx" style="font-size:10.2px;letter-spacing:1.492px">13</text>
<text transform="translate(627.57,260.20) scale(0.85,1)" text-anchor="end" class="lbx" style="font-size:10.2px;letter-spacing:1.492px">12</text>
<text transform="translate(627.57,277.48) scale(0.85,1)" text-anchor="end" class="lbx" style="font-size:10.2px;letter-spacing:1.492px">11</text>
<text transform="translate(607.70,277.48) scale(0.85,1)" text-anchor="middle" class="lbx" style="font-size:10.2px;letter-spacing:1.080px">~</text>
<text transform="translate(627.57,294.76) scale(0.85,1)" text-anchor="end" class="lbx" style="font-size:10.2px;letter-spacing:1.492px">10</text>
<text transform="translate(607.70,294.76) scale(0.85,1)" text-anchor="middle" class="lbx" style="font-size:10.2px;letter-spacing:1.080px">~</text>
<text transform="translate(627.22,312.04) scale(0.85,1)" text-anchor="end" class="lbx" style="font-size:10.2px;letter-spacing:1.080px">9</text>
<text transform="translate(614.90,312.04) scale(0.85,1)" text-anchor="middle" class="lbx" style="font-size:10.2px;letter-spacing:1.080px">~</text>
<text transform="translate(627.22,329.32) scale(0.85,1)" text-anchor="end" class="lbx" style="font-size:10.2px;letter-spacing:1.080px">8</text>
<text transform="translate(627.22,357.10) scale(0.85,1)" text-anchor="end" class="lbx" style="font-size:10.2px;letter-spacing:1.080px">7</text>
<text transform="translate(627.22,374.38) scale(0.85,1)" text-anchor="end" class="lbx" style="font-size:10.2px;letter-spacing:1.080px">6</text>
<text transform="translate(614.90,374.38) scale(0.85,1)" text-anchor="middle" class="lbx" style="font-size:10.2px;letter-spacing:1.080px">~</text>
<text transform="translate(627.22,391.66) scale(0.85,1)" text-anchor="end" class="lbx" style="font-size:10.2px;letter-spacing:1.080px">5</text>
<text transform="translate(614.90,391.66) scale(0.85,1)" text-anchor="middle" class="lbx" style="font-size:10.2px;letter-spacing:1.080px">~</text>
<text transform="translate(627.22,408.94) scale(0.85,1)" text-anchor="end" class="lbx" style="font-size:10.2px;letter-spacing:1.080px">4</text>
<text transform="translate(627.22,426.22) scale(0.85,1)" text-anchor="end" class="lbx" style="font-size:10.2px;letter-spacing:1.080px">3</text>
<text transform="translate(614.90,426.22) scale(0.85,1)" text-anchor="middle" class="lbx" style="font-size:10.2px;letter-spacing:1.080px">~</text>
<text transform="translate(627.22,443.50) scale(0.85,1)" text-anchor="end" class="lbx" style="font-size:10.2px;letter-spacing:1.080px">2</text>
<text transform="translate(590.20,460.90) scale(0.85,1)" class="lbx" style="font-size:10.2px;letter-spacing:1.374px">TX0</text>
<text transform="translate(627.22,460.90) scale(0.85,1)" text-anchor="end" class="lbx" style="font-size:10.2px;letter-spacing:1.080px">1</text>
<path d="M612.2,453.9 L617.6,457.4 L612.2,460.9 Z" fill="#fff"/>
<text transform="translate(590.20,478.18) scale(0.85,1)" class="lbx" style="font-size:10.2px;letter-spacing:1.374px">RX0</text>
<text transform="translate(627.22,478.18) scale(0.85,1)" text-anchor="end" class="lbx" style="font-size:10.2px;letter-spacing:1.080px">0</text>
<path d="M617.6,471.2 L612.2,474.7 L617.6,478.2 Z" fill="#fff"/>
<text transform="translate(341.60,330.20) rotate(90) scale(0.85,1)" class="lbx" style="font-size:11px;letter-spacing:1.106px">POWER</text>
<text transform="translate(341.50,420.60) rotate(90) scale(0.85,1)" class="lbx" style="font-size:11px;letter-spacing:1.047px">ANALOG IN</text>
<text transform="translate(589.80,346.50) rotate(90) scale(0.85,1)" class="lbx" style="font-size:11px;letter-spacing:1.106px">DIGITAL (PWM=~)</text>
<text transform="translate(598.30,65.00) rotate(90) scale(0.85,1)" class="lbx" style="font-size:12px;letter-spacing:1.682px">RESET</text>
<text transform="translate(577.90,140.40) rotate(90) scale(0.85,1)" class="lbx" style="font-size:12px;letter-spacing:1.682px">ICSP2</text>
<text transform="translate(520.90,202.60) rotate(90) scale(0.85,1)" class="lbx" style="font-size:12px;letter-spacing:1.682px">RX</text>
<text transform="translate(537.50,202.60) rotate(90) scale(0.85,1)" class="lbx" style="font-size:12px;letter-spacing:1.682px">TX</text>
<text transform="translate(569.20,211.20) rotate(90) scale(0.85,1)" class="lbx" style="font-size:12px;letter-spacing:1.271px">L</text>
<text transform="translate(536.60,458.40) rotate(90) scale(0.85,1)" class="lbx" style="font-size:12.2px;letter-spacing:1.704px">ON</text>
<text transform="translate(456.90,464.20) scale(0.85,1)" class="lbx" style="font-size:11.5px;letter-spacing:1.747px">ICSP</text>
<text transform="translate(500.80,458.60) rotate(90) scale(0.85,1)" class="lbx" style="font-size:11.5px;letter-spacing:1.218px">1</text>
<text transform="translate(521.60,262.30) rotate(90) scale(0.85,1)" class="ard" style="font-size:17.5px;letter-spacing:2.265px">Arduino</text>
<text transform="translate(531.80,333.00) rotate(90) scale(0.85,1)" class="ard" style="font-size:4.5px;letter-spacing:0.888px">TM</text>
<defs><clipPath id="nclip"><rect x="549" y="370" width="22.1" height="40"/></clipPath></defs>
<path d="M571.1,361.8 L558,361.8 A7.5,7.5 0 0 0 558,376.8 L571.1,376.8" fill="none" stroke="#fff" stroke-width="2.2"/>
<path d="M549,383.8 L571.1,383.8 M549,397.1 L571.1,397.1 M572.6,383.8 L547.5,397.1" fill="none" stroke="#fff" stroke-width="2.2" clip-path="url(#nclip)"/>
<ellipse cx="560.05" cy="411.2" rx="9.95" ry="8.4" fill="none" stroke="#fff" stroke-width="2.2"/>
<path d="M724.9,525.9 L793.7,525.9" stroke="#8f8f8f" stroke-width="4.2"/>
<circle cx="724.9" cy="525.9" r="3.6" fill="#6b9c6b"/><circle cx="793.7" cy="525.9" r="3.6" fill="#6b9c6b"/>
<path d="M739.8,518.1 L746,518.1 Q750,521 754,521 L765,521 Q769,521 773,518.1 L779.8,518.1 Q781.8,518.1 781.8,520.1 L781.8,532.2 Q781.8,534.2 779.8,534.2 L773,534.2 Q769,531.5 765,531.5 L754,531.5 Q750,531.5 746,534.2 L739.8,534.2 Q737.8,534.2 737.8,532.2 L737.8,520.1 Q737.8,518.1 739.8,518.1 Z" fill="#e2b57a"/>
<rect x="738" y="518.3" width="43.6" height="4.6" fill="#9a7a4c" opacity="0.55"/>
<rect x="742" y="518.3" width="1" height="15.5" fill="#6a5a20"/>
<rect x="753.2" y="519.5" width="4.4" height="13.5" fill="#7a3a08"/>
<rect x="761.9" y="519.8" width="4.6" height="13" fill="#ff5a10"/>
<rect x="771.1" y="518.3" width="4.1" height="15.6" fill="#ff5a10"/>
<path d="M845.7,509.2 L925,509.2" stroke="#8a8a8a" stroke-width="4.3"/>
<path d="M845.7,526.2 L903,526.2 Q906,526.2 908,523 L911,519.5 Q913,517.5 916,517.5 L925,517.5" fill="none" stroke="#8a8a8a" stroke-width="4.3"/>
<path d="M845.7,509.2 L857.4,509.2 M845.7,526.2 L857.4,526.2" stroke="#6a9a6a" stroke-width="4.3"/>
<circle cx="845.7" cy="509.2" r="3.4" fill="#6a9a6a"/><circle cx="845.7" cy="526.2" r="3.4" fill="#6a9a6a"/>
<path d="M946,497.9 L931,497.9 Q919,497.9 919,513 L919,521 Q919,535.1 933,535.1 L941,535.1 Q946,535.1 949,531 L949,500 Z" fill="#e51414"/>
<path d="M926,497.9 L958,497.9 A16.8,16.8 0 0 1 958,531.5 L926,531.5 Q922.5,531.5 922.5,527 L922.5,502.5 Q922.5,497.9 926,497.9 Z" fill="#e63a3a" fill-opacity="0.94"/>
<path d="M943.9,506.2 L953.8,506.2 L953.8,526 L936.8,526 L936.8,524.8 L943.9,524.8 Z" fill="#bf2222" fill-opacity="0.75"/>
<path d="M943.9,516 L953.8,525" stroke="#e64040" stroke-width="1.3"/>
<path d="M927.5,502.5 Q929,500.6 933,500.6 L958,500.6 A12.5,12.5 0 0 1 968.8,508.6" fill="none" stroke="#f4a4a4" stroke-width="2" stroke-opacity="0.75"/>
<path d="M925.5,503.5 Q922.8,514 925.5,525" fill="none" stroke="#f49494" stroke-width="1" stroke-opacity="0.8"/>
<path d="M966.3,524.2 L971.2,518.5" stroke="#f4a4a4" stroke-width="2" stroke-opacity="0.8"/>
<path d="M310,336 L447.5,612 L724.9,612.1" fill="none" stroke="#000" stroke-width="7.6" stroke-linejoin="round" stroke-linecap="round"/>
<path d="M310.22,336.45 L445.72,608.42" stroke="#484848" stroke-width="3.8"/>
<path d="M451.50,612.00 L722.90,612.10" stroke="#404040" stroke-width="3.8"/>
<circle cx="310" cy="336" r="4.1" fill="#3a6e3a" fill-opacity="0.6" stroke="#22a022" stroke-width="1.3"/>
<circle cx="724.9" cy="612.1" r="4.2" fill="#2a8a2a" fill-opacity="0.45" stroke="#3ad43a" stroke-width="1.2"/>
<path d="M638.5,439.4 L690,509 L794,509" fill="none" stroke="#0d9e22" stroke-width="7.6" stroke-linejoin="round" stroke-linecap="round"/>
<path d="M638.80,439.80 L687.62,505.78" stroke="#26cc3a" stroke-width="3.8"/>
<path d="M694.00,509.00 L792.00,509.00" stroke="#26cc3a" stroke-width="3.8"/>
<circle cx="793" cy="509" r="2.2" fill="#26cc3a"/>
</svg>
</body></html>
